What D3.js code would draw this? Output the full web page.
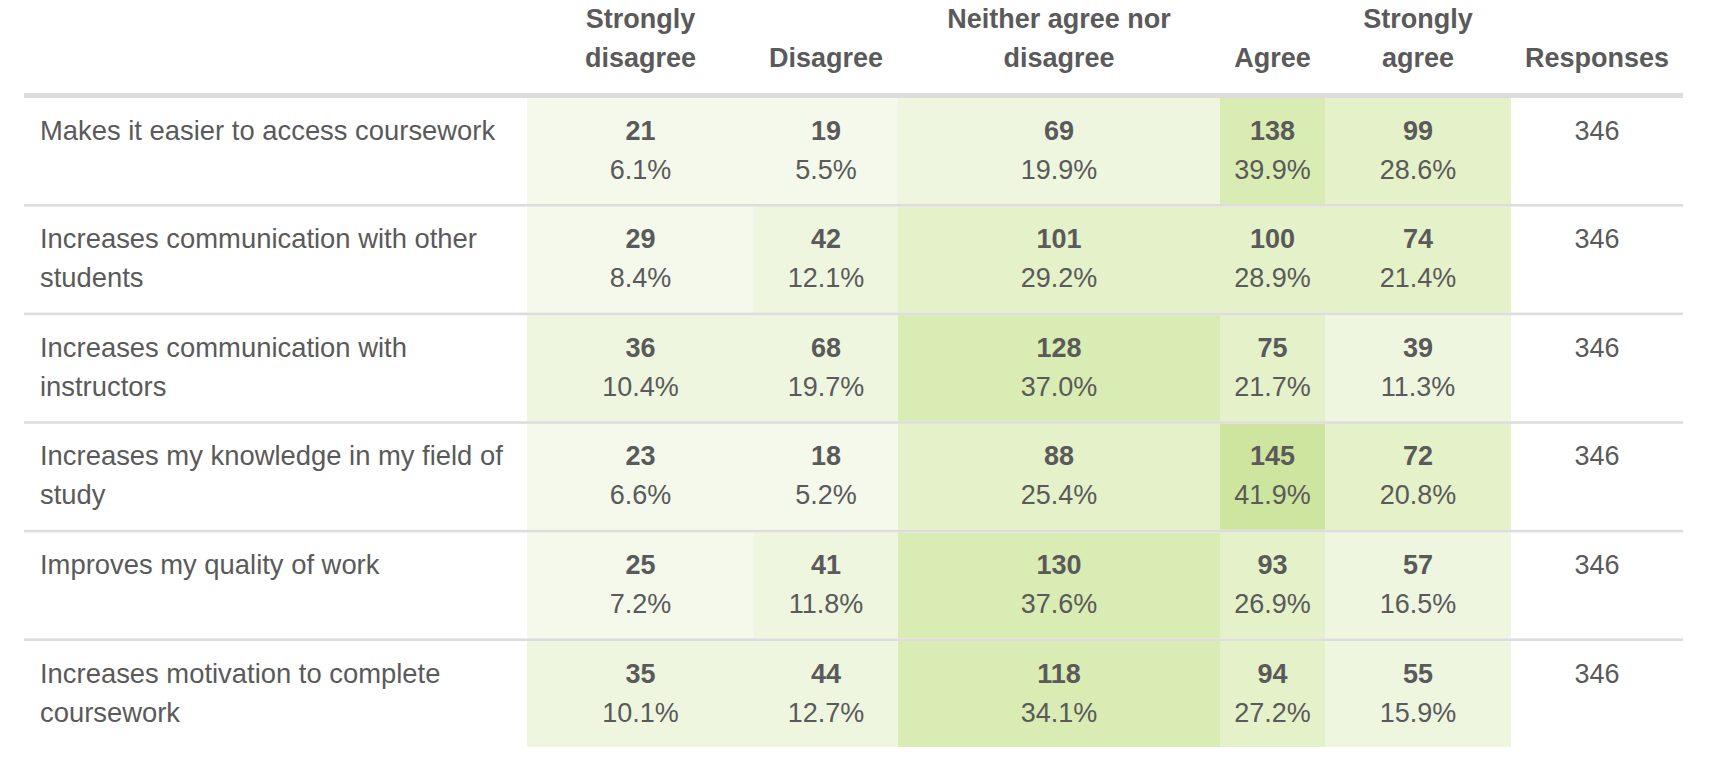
<!DOCTYPE html>
<html>
<head>
<meta charset="utf-8">
<script src="https://cdn.jsdelivr.net/npm/d3@7"></script>
<style>
  html, body { margin: 0; padding: 0; background: #ffffff; }
  svg { display: block; }
  text { font-family: "Liberation Sans", Arial, Helvetica, sans-serif; }
</style>
</head>
<body>
<div id="chart"></div>
<script>
// ---- data ----
const categories = ["Strongly disagree", "Disagree", "Neither agree nor disagree", "Agree", "Strongly agree"];
const statements = [
  "Makes it easier to access coursework",
  "Increases communication with other students",
  "Increases communication with instructors",
  "Increases my knowledge in my field of study",
  "Improves my quality of work",
  "Increases motivation to complete coursework"
];
const stronglyDisagree = [21, 29, 36, 23, 25, 35];
const disagree         = [19, 42, 68, 18, 41, 44];
const neither          = [69, 101, 128, 88, 130, 118];
const agree            = [138, 100, 75, 145, 93, 94];
const stronglyAgree    = [99, 74, 39, 72, 57, 55];
const responses        = [346, 346, 346, 346, 346, 346];
const responsesHeader  = "Responses";
const colorBins        = [10, 20, 30, 40];   // percent thresholds
const binColors        = ["#f4f9eb", "#eef6e0", "#e4f1c9", "#d9ecb3", "#cde59e"];

// ---- layout ----
const W = 1734, H = 780;
const left = 24, right = 1683;
const labelColRight = 527;
const colWidths = [227, 144, 322, 105, 186];
const respWidth = right - (labelColRight + d3.sum(colWidths));
const headerRuleTop = 93, headerRuleH = 5;
const bodyTop = headerRuleTop + headerRuleH;
const rowPitch = 108.6, cellH = 106;
const fontSize = 27, labelFontSize = 27.4, headerFontSize = 27, lineH = 39;
const textColor = "#5a5a5a";

const series = [stronglyDisagree, disagree, neither, agree, stronglyAgree];

const svg = d3.select("#chart").append("svg").attr("width", W).attr("height", H);

// column scale (band positions of unequal widths)
const colStarts = colWidths.map((w, i) => labelColRight + d3.sum(colWidths.slice(0, i)));
const x = d3.scaleOrdinal().domain(categories).range(colStarts);
const xw = d3.scaleOrdinal().domain(categories).range(colWidths);
const respX = labelColRight + d3.sum(colWidths);

const y = d3.scaleBand().domain(statements).range([bodyTop, bodyTop + rowPitch * statements.length]).paddingInner(0).paddingOuter(0);
const color = d3.scaleThreshold().domain(colorBins).range(binColors);

// helper: wrap text into lines to fit width
function wrapLines(str, maxW, weight, fs) {
  const tmp = svg.append("text").attr("font-size", fs).attr("font-weight", weight).attr("visibility", "hidden");
  const words = str.split(" ");
  const lines = [];
  let cur = "";
  words.forEach(w => {
    const test = cur ? cur + " " + w : w;
    tmp.text(test);
    if (tmp.node().getComputedTextLength() > maxW && cur) {
      lines.push(cur);
      cur = w;
    } else cur = test;
  });
  if (cur) lines.push(cur);
  tmp.remove();
  return lines;
}

// ---- cells ----
const cells = [];
statements.forEach((s, r) => {
  categories.forEach((c, k) => {
    const v = series[k][r];
    cells.push({ s, c, v, pct: v / responses[r] * 100 });
  });
});

svg.append("g").selectAll("rect").data(cells).join("rect")
  .attr("x", d => x(d.c))
  .attr("y", d => y(d.s))
  .attr("width", d => xw(d.c))
  .attr("height", cellH)
  .attr("fill", d => color(d.pct));

// ---- header ----
const headerBaseline2 = 67;
const hdr = svg.append("g");
categories.concat([responsesHeader]).forEach((c, k) => {
  const isResp = k === categories.length;
  const cx = isResp ? respX + respWidth / 2 : x(c) + xw(c) / 2;
  const w = isResp ? respWidth : xw(c);
  const lines = wrapLines(c, w - 30, "bold", headerFontSize);
  const t = hdr.append("text")
    .attr("text-anchor", "middle")
    .attr("font-size", headerFontSize)
    .attr("font-weight", "bold")
    .attr("fill", textColor);
  lines.forEach((ln, i) => {
    t.append("tspan").attr("x", cx)
      .attr("y", headerBaseline2 - (lines.length - 1 - i) * lineH)
      .text(ln);
  });
});

svg.append("rect").attr("x", left).attr("y", headerRuleTop)
  .attr("width", right - left).attr("height", headerRuleH).attr("fill", "#dcdcdc");

// ---- row separators ----
svg.append("g").selectAll("rect").data(statements.slice(0, -1)).join("rect")
  .attr("x", left).attr("y", d => y(d) + cellH)
  .attr("width", right - left).attr("height", rowPitch - cellH)
  .attr("fill", "#dddddd");

// ---- row labels ----
const b1 = 41.5, b2 = 80.5;
statements.forEach(s => {
  const lines = wrapLines(s, 480, "normal", labelFontSize);
  const t = svg.append("text").attr("font-size", labelFontSize).attr("fill", textColor);
  lines.forEach((ln, i) => {
    t.append("tspan").attr("x", left + 16).attr("y", y(s) + b1 + i * lineH).text(ln);
  });
});

// ---- cell values ----
const vals = svg.append("g").attr("text-anchor", "middle").attr("font-size", fontSize).attr("fill", textColor);
vals.selectAll("text.count").data(cells).join("text")
  .attr("class", "count")
  .attr("x", d => x(d.c) + xw(d.c) / 2)
  .attr("y", d => y(d.s) + b1)
  .attr("font-weight", "bold")
  .text(d => d.v);
vals.selectAll("text.pct").data(cells).join("text")
  .attr("class", "pct")
  .attr("x", d => x(d.c) + xw(d.c) / 2)
  .attr("y", d => y(d.s) + b2)
  .text(d => d3.format(".1f")(d.pct) + "%");

// ---- responses ----
vals.selectAll("text.resp").data(statements).join("text")
  .attr("class", "resp")
  .attr("x", respX + respWidth / 2)
  .attr("y", d => y(d) + b1)
  .text((d, i) => responses[i]);
</script>
</body>
</html>
